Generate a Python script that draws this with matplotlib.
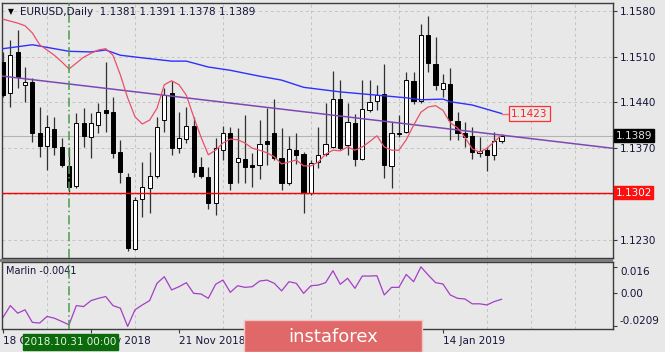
import matplotlib.pyplot as plt
from matplotlib.patches import Rectangle
import numpy as np

# daily EURUSD candles, 18 Oct 2018 .. 24 Jan 2019
opens = [1.1502, 1.1454, 1.1517, 1.1467, 1.1471, 1.1393, 1.1373, 1.1399, 1.1372, 1.1343,
         1.1312, 1.1409, 1.1387, 1.1405, 1.1428, 1.1426, 1.1364, 1.1326, 1.1216, 1.1292,
         1.1309, 1.1328, 1.1413, 1.1454, 1.1370, 1.1384, 1.1404, 1.1341, 1.1326, 1.1286,
         1.1367, 1.1393, 1.1349, 1.1354, 1.1345, 1.1344, 1.1381, 1.1393, 1.1355, 1.1317,
         1.1367, 1.1361, 1.1302, 1.1349, 1.1361, 1.1372, 1.1445, 1.1375, 1.1409, 1.1354,
         1.1428, 1.1442, 1.1453, 1.1343, 1.1394, 1.1395, 1.1473, 1.1442, 1.1543, 1.1499,
         1.1460, 1.1468, 1.1412, 1.1393, 1.1389, 1.1363, 1.1367, 1.1360, 1.1381]
highs = [1.1517, 1.1535, 1.1551, 1.1494, 1.1477, 1.1433, 1.1421, 1.1418, 1.1386, 1.1372,
         1.1424, 1.1431, 1.1424, 1.1439, 1.1502, 1.1448, 1.1383, 1.1332, 1.1296, 1.1349,
         1.1364, 1.1418, 1.1462, 1.1473, 1.1425, 1.1433, 1.1418, 1.1357, 1.1341, 1.1386,
         1.1404, 1.1402, 1.1401, 1.1421, 1.1363, 1.1413, 1.1431, 1.1445, 1.1401, 1.1389,
         1.1393, 1.1364, 1.1352, 1.1402, 1.1439, 1.1488, 1.1474, 1.1439, 1.1422, 1.1474,
         1.1474, 1.1467, 1.1499, 1.1410, 1.1421, 1.1486, 1.1486, 1.1560, 1.1572, 1.1540,
         1.1483, 1.1492, 1.1425, 1.1410, 1.1402, 1.1387, 1.1372, 1.1395, 1.1391]
lows = [1.1448, 1.1433, 1.1462, 1.1441, 1.1380, 1.1357, 1.1337, 1.1360, 1.1341, 1.1303,
        1.1309, 1.1372, 1.1355, 1.1393, 1.1395, 1.1355, 1.1317, 1.1213, 1.1214, 1.1265,
        1.1271, 1.1325, 1.1395, 1.1360, 1.1363, 1.1378, 1.1326, 1.1325, 1.1277, 1.1268,
        1.1352, 1.1306, 1.1317, 1.1317, 1.1311, 1.1323, 1.1344, 1.1352, 1.1306, 1.1314,
        1.1346, 1.1271, 1.1299, 1.1340, 1.1358, 1.1370, 1.1367, 1.1360, 1.1343, 1.1352,
        1.1425, 1.1428, 1.1325, 1.1309, 1.1387, 1.1393, 1.1438, 1.1439, 1.1486, 1.1459,
        1.1448, 1.1383, 1.1383, 1.1372, 1.1354, 1.1357, 1.1335, 1.1352, 1.1378]
closes = [1.1451, 1.1512, 1.1479, 1.1471, 1.1393, 1.1373, 1.1402, 1.1372, 1.1344, 1.1311,
          1.1409, 1.1389, 1.1409, 1.1425, 1.1424, 1.1363, 1.1334, 1.1218, 1.1291, 1.1311,
          1.1328, 1.1402, 1.1451, 1.1370, 1.1386, 1.1404, 1.1334, 1.1328, 1.1286, 1.1370,
          1.1393, 1.1317, 1.1355, 1.1341, 1.1341, 1.1377, 1.1377, 1.1355, 1.1317, 1.1369,
          1.1360, 1.1302, 1.1347, 1.1360, 1.1377, 1.1445, 1.1370, 1.1410, 1.1354, 1.1430,
          1.1441, 1.1451, 1.1344, 1.1393, 1.1391, 1.1474, 1.1442, 1.1543, 1.1500, 1.1467,
          1.1470, 1.1413, 1.1393, 1.1387, 1.1364, 1.1366, 1.1360, 1.1381, 1.1389]

# short moving average (red)
ma_red = [1.1567, 1.1564, 1.1561, 1.1557, 1.1546, 1.1528, 1.1520, 1.1512, 1.1502, 1.1491,
          1.1500, 1.1509, 1.1515, 1.1520, 1.1522, 1.1512, 1.1482, 1.1447, 1.1418, 1.1407,
          1.1413, 1.1431, 1.1467, 1.1473, 1.1467, 1.1451, 1.1418, 1.1387, 1.1360, 1.1367,
          1.1378, 1.1384, 1.1383, 1.1378, 1.1370, 1.1367, 1.1363, 1.1357, 1.1346, 1.1349,
          1.1352, 1.1343, 1.1343, 1.1349, 1.1361, 1.1367, 1.1366, 1.1372, 1.1367, 1.1372,
          1.1380, 1.1389, 1.1372, 1.1367, 1.1367, 1.1383, 1.1405, 1.1425, 1.1433, 1.1435,
          1.1428, 1.1409, 1.1401, 1.1387, 1.1369, 1.1364, 1.1370, 1.1380, 1.1390]

# long moving average (blue), read at these bars
ma_blue_idx = [0, 4, 9, 12, 14, 16, 19, 23, 25, 28, 31, 35, 38, 41, 46, 48, 51, 55, 57, 60, 61, 64, 68]
ma_blue = [1.1522, 1.1528, 1.1518, 1.1517, 1.1520, 1.1512, 1.1508, 1.1503, 1.1503, 1.1494,
           1.1489, 1.1480, 1.1474, 1.1463, 1.1456, 1.1454, 1.1451, 1.1447, 1.1444, 1.1445,
           1.1441, 1.1436, 1.1423]

# Marlin oscillator
marlin = [-0.0153, -0.0080, -0.0127, -0.0106, -0.0184, -0.0188, -0.0147, -0.0158, -0.0178, -0.0199,
          -0.0080, -0.0086, -0.0049, -0.0035, -0.0024, -0.0080, -0.0096, -0.0209, -0.0106, -0.0076,
          -0.0049, 0.0058, 0.0099, 0.0017, 0.0037, 0.0062, -0.0004, -0.0008, -0.0035, 0.0052,
          0.0078, 0.0002, 0.0043, 0.0033, 0.0037, 0.0072, 0.0078, 0.0058, 0.0011, 0.0068,
          0.0058, -0.0004, 0.0043, 0.0047, 0.0062, 0.0136, 0.0052, 0.0089, 0.0027, 0.0103,
          0.0103, 0.0105, -0.0014, 0.0033, 0.0033, 0.0113, 0.0068, 0.0160, 0.0109, 0.0062,
          0.0054, -0.0014, -0.0035, -0.0039, -0.0069, -0.0069, -0.0076, -0.0055, -0.0041]

# trend line anchors (bar index, price)
trend_x = [0, 68]
trend_y = [1.1480, 1.1390]

support = 1.1302
vline_bar = 9
vline_label = '2018.10.31 00:00'

price_ticks = [1.1580, 1.1510, 1.1440, 1.1370, 1.1300, 1.1230]
price_labels = ['1.1580', '1.1510', '1.1440', '1.1370', '', '1.1230']
date_ticks = [0, 12, 24, 36, 48, 60]
date_labels = ['18 Oct 2018', '5 Nov 2018', '21 Nov 2018', '', '', '14 Jan 2019']
marlin_ticks = [0.016, 0.0, -0.0209]
marlin_labels = ['0.016', '0.00', '-0.0209']

bg = '#e8e8e8'
txt = '#14143a'
W, H = 665, 352


def rect(x0, y0, x1, y1):
    return [x0 / W, 1 - y1 / H, (x1 - x0) / W, (y1 - y0) / H]


fig = plt.figure(figsize=(W / 100, H / 100), dpi=100, facecolor=bg)
ax = fig.add_axes(rect(2, 2.7, 613, 258))
ax2 = fig.add_axes(rect(2, 262, 613, 329), sharex=ax)

for a in (ax, ax2):
    a.set_facecolor(bg)
    for s in a.spines.values():
        s.set_color('#3c3c3c')
        s.set_linewidth(1)
    a.set_xticks(np.arange(0, 84, 6), minor=True)
    a.grid(True, which='minor', axis='x', color='#c4c4c4', ls=(0, (3, 3)), lw=0.7)
    a.grid(True, which='major', axis='y', color='#c4c4c4', ls=(0, (3, 3)), lw=0.7)
    a.tick_params(which='minor', length=0)
    a.yaxis.tick_right()
    a.tick_params(axis='y', length=3, color='#3c3c3c', labelsize=7.5, labelcolor=txt, pad=2)
    a.axvline(vline_bar, color='#4c9a4c', ls=(0, (6, 2, 1, 2)), lw=1.1, zorder=5)

ax.set_xlim(-0.14, 83.2)
ax.set_ylim(1.12024, 1.15922)
ax.set_yticks(price_ticks)
ax.set_yticklabels(price_labels)
ax.tick_params(axis='x', which='both', bottom=False, labelbottom=False)

# candles
idx = np.arange(len(opens))
o = np.array(opens)
c = np.array(closes)
up = c >= o
ax.vlines(idx, lows, highs, color='#303030', lw=0.9, zorder=2)
body_lo = np.minimum(o, c)
body_h = np.maximum(np.abs(c - o), 0.00006)
ax.bar(idx, body_h, bottom=body_lo, width=0.58, color=np.where(up, 'white', 'black'),
       edgecolor='black', lw=0.7, zorder=3)

ax.axhline(closes[-1], color='#b4b4b4', lw=0.8, zorder=1)
ax.axhline(support, color='#ff0000', lw=1.0, zorder=4)
ax.axline((trend_x[0], trend_y[0]), (trend_x[1], trend_y[1]), color='#7d48b4', lw=1.1, zorder=4)
ax.plot(ma_blue_idx, ma_blue, color='#2f2fff', lw=1.0, zorder=4)
ax.plot(idx, ma_red, color='#e8506a', lw=0.9, zorder=4)

# MA value label
ax.plot([ma_blue_idx[-1], ma_blue_idx[-1] + 1.3], [ma_blue[-1], ma_blue[-1]], color='#f07080', lw=1, zorder=4)
ax.text(ma_blue_idx[-1] + 1.3, ma_blue[-1], '%.4f' % ma_blue[-1], color='#ff2020', fontsize=7.5,
        va='center', ha='left', zorder=6,
        bbox=dict(boxstyle='square,pad=0.2', fc=bg, ec='#ff3030', lw=0.9))

# right price boxes
ax.text(1.004, closes[-1], '%.4f' % closes[-1], transform=ax.get_yaxis_transform(), color='#e0e0e0',
        fontsize=7.5, va='center', ha='left', zorder=10, clip_on=False,
        bbox=dict(boxstyle='square,pad=0.15', fc='black', ec='black'))
ax.text(1.004, support, '%.4f' % support, transform=ax.get_yaxis_transform(), color='white',
        fontsize=7.5, va='center', ha='left', zorder=10, clip_on=False,
        bbox=dict(boxstyle='square,pad=0.15', fc='#ff1010', ec='#ff1010'))

# Marlin panel
ax2.plot(idx, marlin, color='#a33fc6', lw=0.9)
ax2.set_ylim(-0.0225, 0.0190)
ax2.set_yticks(marlin_ticks)
ax2.set_yticklabels(marlin_labels)
ylabs = ax2.get_yticklabels()
ylabs[0].set_va('top')
ylabs[-1].set_va('bottom')
ax2.grid(False, axis='y')
ax2.set_xticks(date_ticks)
ax2.set_xticklabels(date_labels, ha='left')
ax2.tick_params(axis='x', which='major', length=3, color='#3c3c3c', labelsize=7.5, labelcolor=txt, pad=2)
ax2.text(0.006, 0.86, 'Marlin %.4f' % marlin[-1], transform=ax2.transAxes, fontsize=7, color=txt,
         va='center', ha='left')

# separator between panels
fig.patches.append(Rectangle((0, 1 - 261.5 / H), 613 / W, 3 / H, transform=fig.transFigure,
                             fc='#7c7c7c', ec='none', zorder=2))

# header
fig.text(8 / W, 1 - 12 / H, '\u25bc', fontsize=5.5, color='black', va='center', ha='left')
fig.text(20 / W, 1 - 12 / H, 'EURUSD,Daily  %.4f %.4f %.4f %.4f' % (opens[-1], highs[-1], lows[-1], closes[-1]),
         fontsize=7.5, color=txt, va='center', ha='left')

# vertical line date box
fig.patches.append(Rectangle((23 / W, 1 - 350 / H), 95 / W, 16 / H, transform=fig.transFigure,
                             fc='#0b6b0b', ec='#0b6b0b', zorder=5))
fig.text(70.5 / W, 1 - 342 / H, vline_label, fontsize=7.5, color='#e8f0e8', va='center', ha='center', zorder=6)

# watermark
fig.patches.append(Rectangle((244 / W, 0), 178 / W, 32 / H, transform=fig.transFigure,
                             fc='#e06868', ec='#f4c4c4', lw=1, zorder=7))
fig.text(333 / W, 1 - 337 / H, 'instaforex', fontsize=13, color='white', va='center', ha='center', zorder=8)

fig.savefig('out.png', dpi=100, facecolor=bg)
